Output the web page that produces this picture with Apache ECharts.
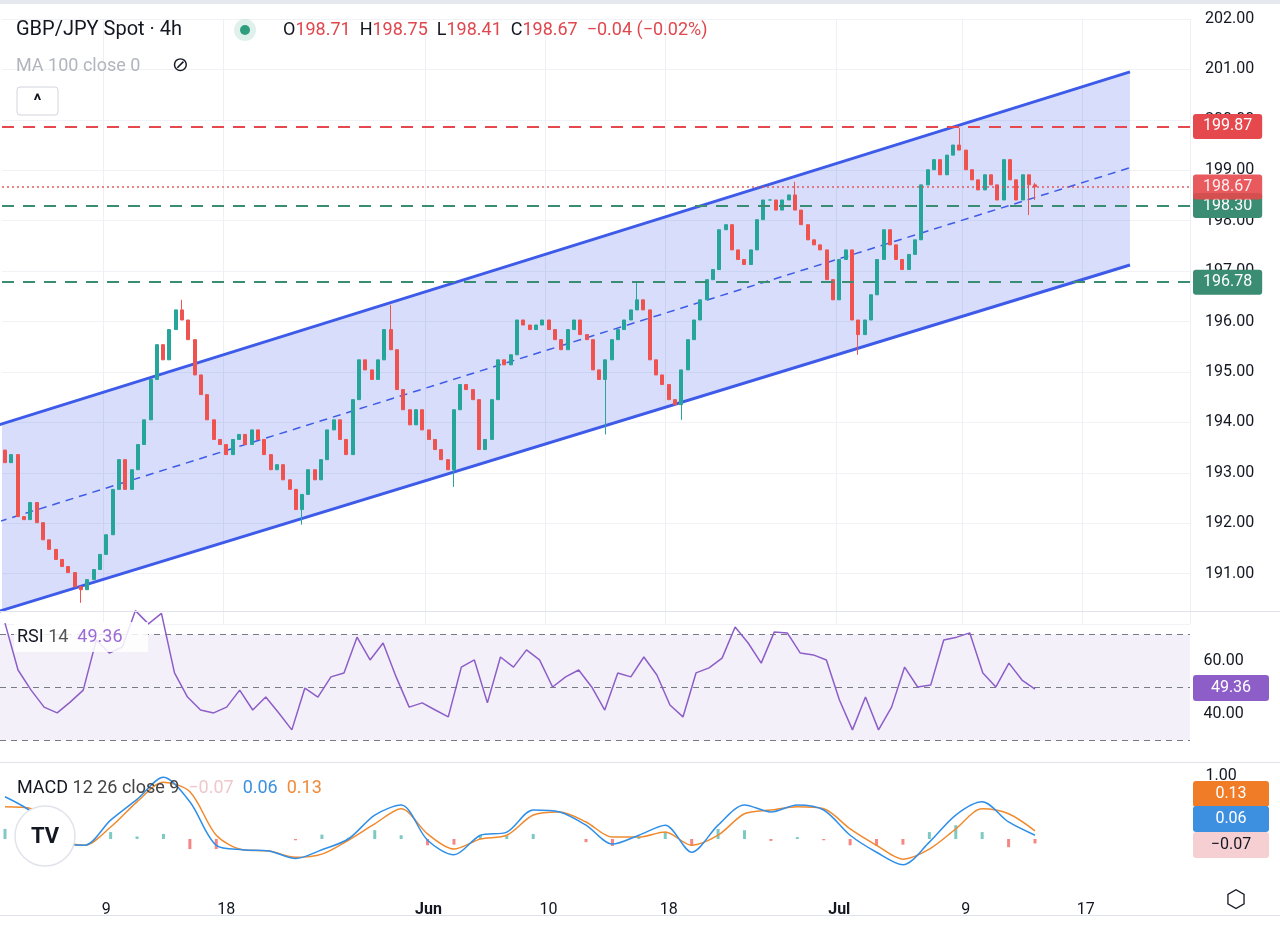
<!DOCTYPE html>
<html><head><meta charset="utf-8">
<script src="https://cdn.jsdelivr.net/npm/echarts@6/dist/echarts.min.js"></script>
<style>html,body{margin:0;padding:0;background:#fff}#c{width:1280px;height:929px}</style>
</head><body><div id="c"></div>
<script>
// ---- data ----
const closes = [193.20,193.36,192.13,192.07,192.41,192.01,191.67,191.48,191.28,191.14,191.02,190.74,190.68,190.88,
191.08,191.38,191.77,192.67,193.26,192.67,193.06,193.56,194.05,194.85,195.54,195.24,195.84,196.23,196.03,195.64,
194.94,194.55,194.05,193.66,193.56,193.36,193.66,193.76,193.56,193.85,193.66,193.36,193.06,193.16,192.86,192.67,
192.27,192.57,193.06,192.86,193.26,193.85,194.05,193.66,193.36,194.45,195.24,195.04,194.85,195.24,195.84,195.44,
194.65,194.25,193.95,194.25,193.85,193.66,193.46,193.26,193.06,194.25,194.75,194.65,194.45,193.46,193.66,194.45,
195.24,195.14,195.34,196.03,195.93,195.84,195.93,196.03,195.84,195.64,195.44,195.84,196.03,195.74,195.64,195.04,
194.85,195.24,195.64,195.84,196.03,196.23,196.43,196.23,195.24,194.94,194.75,194.45,194.35,195.04,195.64,196.03,
196.43,196.83,197.03,197.82,197.92,197.42,197.23,197.13,197.42,198.02,198.41,198.41,198.21,198.41,198.51,198.21,
197.92,197.62,197.52,197.42,196.83,196.43,197.23,197.42,196.03,195.74,196.03,196.53,197.23,197.82,197.52,197.23,
197.03,197.33,197.62,198.71,199.01,199.21,198.91,199.30,199.50,199.40,199.01,198.81,198.61,198.91,198.71,198.41,
199.21,198.81,198.41,198.91,198.71,198.67];
const firstOpen = 193.45;
const highSpikes = {28:196.43, 61:196.33, 100:196.77, 125:198.77, 151:199.84, 163:198.75};
const lowSpikes = {12:190.42, 47:191.97, 71:192.72, 95:193.76, 107:194.05, 135:195.34, 162:198.11, 163:198.41};
const tickIdx = [16,35,67,86,105,132,152,171];
const tickText = ['9','18','Jun','10','18','Jul','9','17'];
const channelUpper = [[-0.8,193.95],[178,200.95]];
const channelMid = [[-0.8,192.03],[178,199.05]];
const channelLower = [[-0.8,190.25],[178,197.12]];
const levels = {resistance:199.87, support1:198.30, support2:196.78, last:198.67};
const rsi = [74.3,56.6,49,42.6,40.4,44.5,49,67.9,63,65.3,79,74,78,55.5,46.4,41.5,40.4,42.6,49,41.5,46.4,40.4,34,49.8,46.4,54,55.5,69,60.4,66.8,
54,42.6,44.2,41.5,38.9,57.7,60.4,44.2,61.5,57.7,64.2,60.4,50.2,54,56.6,50.2,41.5,55.5,54,61.5,54.7,43.4,38.9,55.5,57.4,61.1,72.8,66.8,59.2,70.9,
70.6,63,62.3,60.4,45.3,34,46.4,34,42.6,57.7,50.2,50.9,67.9,69,70.6,55.5,50.2,59.2,52.8,49.36];
const macd = [0.67,0.43,-0.02,-0.1,0.3,0.63,0.98,0.59,-0.1,-0.17,-0.19,-0.31,-0.17,0,0.38,0.54,-0.02,-0.25,0.06,0.11,
0.46,0.43,0.22,-0.08,0.06,0.22,-0.21,0.22,0.54,0.43,0.54,0.46,0.06,-0.21,-0.41,-0.05,0.38,0.59,0.27,0.06];
const signal = [0.51,0.48,0,-0.1,0.19,0.59,0.9,0.75,0.06,-0.17,-0.19,-0.29,-0.24,-0.02,0.24,0.48,0.08,-0.16,0,0.06,
0.38,0.43,0.27,0.03,0.03,0.11,-0.1,0.06,0.4,0.46,0.51,0.48,0.16,-0.1,-0.32,-0.16,0.16,0.48,0.4,0.13];

// ---- build ----
const UP='#26a69a', DN='#ef5350';
const totalCats = 188;
const cats = []; for(let i=0;i<totalCats;i++) cats.push(String(i));
const ohlc = closes.map((c,i)=>{
  const o = i===0?firstOpen:closes[i-1];
  let h=Math.max(o,c), l=Math.min(o,c);
  if(highSpikes[i]!==undefined) h=Math.max(h,highSpikes[i]);
  if(lowSpikes[i]!==undefined) l=Math.min(l,lowSpikes[i]);
  return [o,c,l,h];
});
const hist = macd.map((m,i)=>+(m-signal[i]).toFixed(3));
const tickSet = new Set(tickIdx);
const font = 'Roboto, "Noto Sans", sans-serif';
// indicator panes: same pixel span for data (5..1035), padded with empty slots up to the price scale
const rsiPad = 12, macdPad = 6;
const rsiStep = 1030/(rsi.length-1), macdStep = 1030/(macd.length-1);
const rsiCats = []; for(let i=0;i<rsi.length+rsiPad;i++) rsiCats.push(i);
const macdCats = []; for(let i=0;i<macd.length+macdPad;i++) macdCats.push(i);

function tag(y,text,bg,fg){
  return [{type:'rect',shape:{x:1193,y:y-13,width:76,height:26,r:3},style:{fill:bg},z:50},
          {type:'text',x:1231,y:y,style:{text:text,fill:fg||'#fff',font:'16px '+font,align:'center',verticalAlign:'middle'},z:51}];
}
const mlLabel = (bg)=>({show:true,position:'end',distance:3,formatter:p=>p.value.toFixed(2),backgroundColor:bg,color:'#fff',
  padding:[5,10,4,10],borderRadius:3,fontSize:16,fontFamily:font});

const chart = echarts.init(document.getElementById('c'),null,{renderer:'canvas'});
chart.setOption({
  animation:false,
  backgroundColor:'#fff',
  grid:[
    {left:2,width:1188,top:19,height:605},
    {left:5,width:rsiStep*(rsi.length-1+rsiPad),top:608,height:159},
    {left:5,width:macdStep*(macd.length-1+macdPad),top:776,height:126},
    {left:2,width:1188,top:885,height:1}
  ],
  xAxis:[
    {gridIndex:0,type:'category',data:cats,boundaryGap:true,axisLine:{show:false},axisTick:{show:false},axisLabel:{show:false},
     splitLine:{show:true,interval:(i)=>tickSet.has(i),lineStyle:{color:'#eef0f3'}}},
    {gridIndex:1,type:'category',data:rsiCats,boundaryGap:false,show:false},
    {gridIndex:2,type:'category',data:macdCats,boundaryGap:false,show:false},
    {gridIndex:3,type:'category',data:cats,boundaryGap:true,axisLine:{show:false},axisTick:{show:false},
     axisLabel:{interval:(i)=>tickSet.has(i),margin:16,fontSize:16,fontFamily:font,color:'#131722',
       formatter:(v)=>{const k=tickIdx.indexOf(+v);if(k<0)return '';const t=tickText[k];return (t==='Jun'||t==='Jul')?'{b|'+t+'}':t;},
       rich:{b:{fontWeight:'bold',fontSize:16,fontFamily:font,color:'#131722'}}}}
  ],
  yAxis:[
    {gridIndex:0,type:'value',position:'right',min:190,max:202,interval:1,axisLine:{show:false},axisTick:{show:false},
     axisLabel:{margin:15,fontSize:16,fontFamily:font,color:'#131722',formatter:v=>v===190?'':v.toFixed(2)},
     splitLine:{show:true,lineStyle:{color:'#f0f2f5'}}},
    {gridIndex:1,type:'value',position:'right',min:20,max:80,interval:20,axisLine:{show:false},axisTick:{show:false},
     axisLabel:{margin:12,fontSize:16,fontFamily:font,color:'#131722',formatter:v=>(v===40||v===60)?v.toFixed(2):''},
     splitLine:{show:false}},
    {gridIndex:2,type:'value',position:'right',min:-1,max:1,interval:1,axisLine:{show:false},axisTick:{show:false},
     axisLabel:{margin:12,fontSize:16,fontFamily:font,color:'#131722',formatter:v=>v===1?'1.00':''},
     splitLine:{show:false}},
    {gridIndex:3,type:'value',show:false}
  ],
  series:[
    {type:'custom',xAxisIndex:0,yAxisIndex:0,z:1,clip:true,data:[0],
     renderItem:(params,api)=>{
       const pts=[api.coord(channelUpper[0]),api.coord(channelUpper[1]),api.coord(channelLower[1]),api.coord(channelLower[0])];
       return {type:'polygon',shape:{points:pts},style:{fill:'rgba(72,100,235,0.22)'}};
     }},
    {type:'line',xAxisIndex:0,yAxisIndex:0,data:channelUpper,symbol:'none',lineStyle:{color:'#3d5be8',width:3},z:3},
    {type:'line',xAxisIndex:0,yAxisIndex:0,data:channelLower,symbol:'none',lineStyle:{color:'#3d5be8',width:3},z:3},
    {type:'line',xAxisIndex:0,yAxisIndex:0,data:channelMid,symbol:'none',lineStyle:{color:'#3d5be8',width:1.5,type:[8,6]},z:3},
    {type:'candlestick',xAxisIndex:0,yAxisIndex:0,data:ohlc,barWidth:3.5,z:4,
     itemStyle:{color:UP,color0:DN,borderColor:UP,borderColor0:DN,borderWidth:1},
     markLine:{symbol:'none',silent:true,z:6,data:[
       {yAxis:levels.resistance,lineStyle:{color:'#e5484d',width:2,type:[12,9]},label:mlLabel('#e5484d')},
       {yAxis:levels.support1,lineStyle:{color:'#3a8c72',width:2,type:[12,9]},label:mlLabel('#3a8c72')},
       {yAxis:levels.support2,lineStyle:{color:'#3a8c72',width:2,type:[12,9]},label:mlLabel('#3a8c72')},
       {yAxis:levels.last,lineStyle:{color:'#e5484d',width:1.5,type:[2,3],opacity:0.9},label:mlLabel('#e5484d')}
     ]}},
    {type:'line',xAxisIndex:1,yAxisIndex:1,data:rsi,symbol:'none',lineStyle:{color:'#8d5ec8',width:1.5},z:5,
     markArea:{silent:true,itemStyle:{color:'rgba(126,87,194,0.09)'},data:[[{yAxis:30,x:0},{yAxis:70,x:1190}]]},
     markLine:{symbol:'none',silent:true,label:{show:false},data:[
       [{yAxis:70,x:0},{yAxis:70,x:1190}],[{yAxis:50,x:0},{yAxis:50,x:1190}],[{yAxis:30,x:0},{yAxis:30,x:1190}]],
       lineStyle:{color:'#787b86',width:1,type:[6,5]}}},
    {type:'bar',xAxisIndex:2,yAxisIndex:2,data:hist.map(v=>({value:v,itemStyle:{color:v>=0?'rgba(38,166,154,0.6)':'rgba(239,83,80,0.7)'}})),barWidth:3,z:3},
    {type:'line',xAxisIndex:2,yAxisIndex:2,data:macd,symbol:'none',smooth:0.3,lineStyle:{color:'#2f8fe8',width:1.5},z:5},
    {type:'line',xAxisIndex:2,yAxisIndex:2,data:signal,symbol:'none',smooth:0.3,lineStyle:{color:'#f08a2e',width:1.5},z:4}
  ],
  graphic:[
    {type:'line',shape:{x1:0,y1:611.5,x2:1280,y2:611.5},style:{stroke:'#e0e3eb',lineWidth:1},z:40},
    {type:'line',shape:{x1:0,y1:762.5,x2:1280,y2:762.5},style:{stroke:'#e0e3eb',lineWidth:1},z:40},
    {type:'line',shape:{x1:0,y1:915.5,x2:1280,y2:915.5},style:{stroke:'#e0e3eb',lineWidth:1},z:40},
    {type:'rect',shape:{x:0,y:0,width:1280,height:4},style:{fill:'#e6e8ef'},z:40},
    {type:'text',x:16,y:30,style:{text:'GBP/JPY Spot · 4h',fill:'#131722',font:'20px '+font,verticalAlign:'middle'},z:60},
    {type:'circle',shape:{cx:245,cy:30,r:11},style:{fill:'rgba(47,158,126,0.15)'},z:60},
    {type:'circle',shape:{cx:245,cy:30,r:5},style:{fill:'#2f9e7e'},z:61},
    {type:'text',x:283,y:30,style:{text:'{k|O}{v|198.71}  {k|H}{v|198.75}  {k|L}{v|198.41}  {k|C}{v|198.67}  {v|−0.04 (−0.02%)}',
      font:'18px '+font,verticalAlign:'middle',rich:{k:{fill:'#131722',fontSize:18,fontFamily:font},v:{fill:'#e0474e',fontSize:18,fontFamily:font}}},z:60},
    {type:'text',x:16,y:66,style:{text:'MA 100 close 0',fill:'#b2b5be',font:'18px '+font,verticalAlign:'middle'},z:60},
    {type:'text',x:172,y:66,style:{text:'⊘',fill:'#131722',font:'20px "DejaVu Sans"',verticalAlign:'middle'},z:60},
    {type:'rect',shape:{x:17,y:87,width:41,height:28,r:3},style:{fill:'#fff',stroke:'#d1d4dc',lineWidth:1},z:60},
    {type:'text',x:37.5,y:102,style:{text:'^',fill:'#131722',font:'bold 18px '+font,align:'center',verticalAlign:'middle'},z:61},
    {type:'rect',shape:{x:14,y:622,width:134,height:30},style:{fill:'rgba(255,255,255,0.85)'},z:59},
    {type:'text',x:17,y:637,style:{text:'{k|RSI}{g| 14  }{p|49.36}',font:'18px '+font,verticalAlign:'middle',
      rich:{k:{fill:'#131722',fontSize:18,fontFamily:font},g:{fill:'#555',fontSize:18,fontFamily:font},p:{fill:'#9c6ad6',fontSize:18,fontFamily:font}}},z:60},
    {type:'text',x:17,y:788,style:{text:'{k|MACD}{g| 12 26 close 9  }{r|−0.07}  {b|0.06}  {o|0.13}',font:'18px '+font,verticalAlign:'middle',
      rich:{k:{fill:'#131722',fontSize:18,fontFamily:font},g:{fill:'#444',fontSize:18,fontFamily:font},r:{fill:'#f0c7cb',fontSize:18,fontFamily:font},
            b:{fill:'#3d8fe0',fontSize:18,fontFamily:font},o:{fill:'#ee8a3a',fontSize:18,fontFamily:font}}},z:60},
    {type:'circle',shape:{cx:45,cy:836,r:30},style:{fill:'#fff',stroke:'#e0e3eb',lineWidth:1.5},z:60},
    {type:'text',x:45,y:837,style:{text:'TV',fill:'#131722',font:'bold 22px '+font,align:'center',verticalAlign:'middle'},z:61},
    {type:'text',x:1236,y:901,style:{text:'⬡',fill:'#131722',font:'24px "DejaVu Sans"',align:'center',verticalAlign:'middle'},z:60},
    ...tag(688,'49.36','#8d5ec8'),
    ...tag(794,'0.13','#f07c28'),
    ...tag(819,'0.06','#3d8fe0'),
    ...tag(845,'−0.07','#f6cfd2','#131722')
  ]
});
</script></body></html>
